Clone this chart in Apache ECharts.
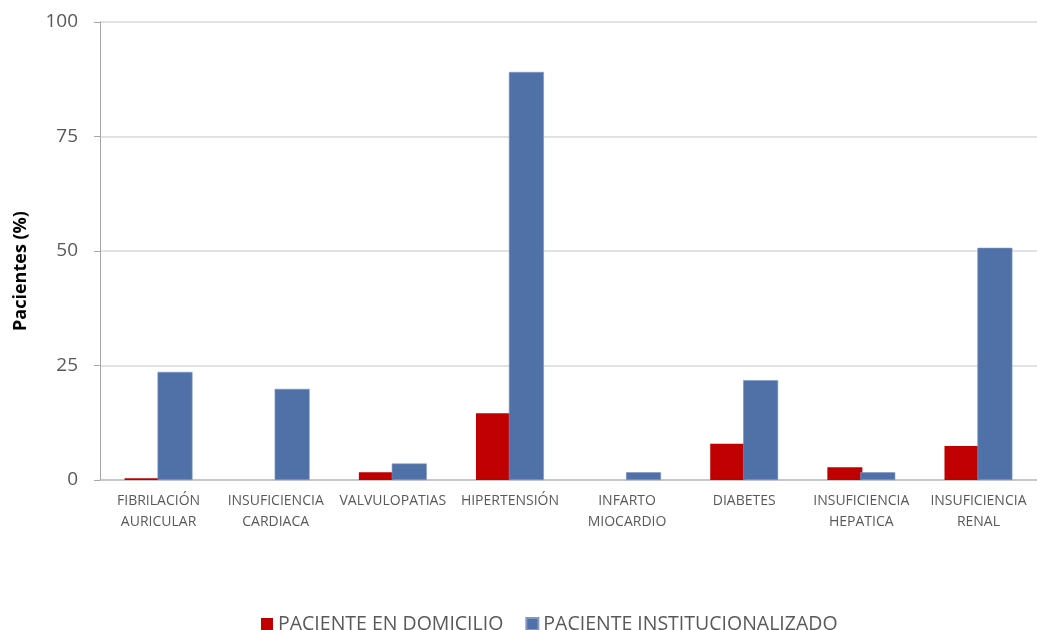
<!DOCTYPE html>
<html>
<head>
<meta charset="utf-8">
<script src="https://cdn.jsdelivr.net/npm/echarts@6/dist/echarts.min.js"></script>
<style>
  html, body { margin: 0; padding: 0; background: #fff; }
  #chart { width: 1037px; height: 630px; }
</style>
</head>
<body>
<div id="chart"></div>
<script>
// Comorbilidades por tipo de paciente (%)
const categories = [
  'FIBRILACIÓN\nAURICULAR', 'INSUFICIENCIA\nCARDIACA', 'VALVULOPATIAS', 'HIPERTENSIÓN',
  'INFARTO\nMIOCARDIO', 'DIABETES', 'INSUFICIENCIA\nHEPATICA', 'INSUFICIENCIA\nRENAL'
];
const domicilio = [0.4, 0, 1.7, 14.6, 0, 7.9, 2.8, 7.4];
const institucionalizado = [23.6, 19.9, 3.6, 89.1, 1.7, 21.8, 1.7, 50.7];
const seriesNames = ['PACIENTE EN DOMICILIO', 'PACIENTE INSTITUCIONALIZADO'];
const yTicks = [0, 25, 50, 75, 100];

const font = "'Open Sans', 'Liberation Sans', sans-serif";
const chart = echarts.init(document.getElementById('chart'));
chart.setOption({
  animation: false,
  textStyle: { fontFamily: font },
  grid: { left: 100, top: 22, width: 946, height: 458 },
  legend: {
    top: 609,
    left: 256,
    itemWidth: 12,
    itemHeight: 12,
    itemGap: 22,
    icon: 'rect',
    textStyle: { fontSize: 19.5, color: '#595959', fontFamily: font },
    data: seriesNames
  },
  xAxis: {
    type: 'category',
    data: categories,
    axisLine: { lineStyle: { color: '#BFBFBF', width: 1.5 } },
    axisTick: { show: false },
    axisLabel: { color: '#595959', fontSize: 14, lineHeight: 21, margin: 11, interval: 0 }
  },
  yAxis: {
    type: 'value',
    min: yTicks[0],
    max: yTicks[yTicks.length - 1],
    interval: 25,
    name: 'Pacientes (%)',
    nameLocation: 'middle',
    nameGap: 70,
    nameTextStyle: { fontSize: 18, fontWeight: 'bold', color: '#000', padding: [0, 40, 0, 0] },
    axisLine: { show: true, lineStyle: { color: '#A6A6A6' } },
    axisTick: { show: true, length: 6, lineStyle: { color: '#A6A6A6' } },
    axisLabel: { color: '#595959', fontSize: 19, margin: 22 },
    splitLine: { lineStyle: { color: '#D9D9D9', width: 1.5 } }
  },
  series: [
    {
      name: seriesNames[0],
      type: 'bar',
      data: domicilio,
      barWidth: 35,
      barGap: '-6%',
      itemStyle: { color: '#C00000' }
    },
    {
      name: seriesNames[1],
      type: 'bar',
      data: institucionalizado,
      barWidth: 35,
      itemStyle: { color: '#4F71A8', borderColor: '#7F98C4', borderWidth: 0.6 }
    }
  ]
});
</script>
</body>
</html>
